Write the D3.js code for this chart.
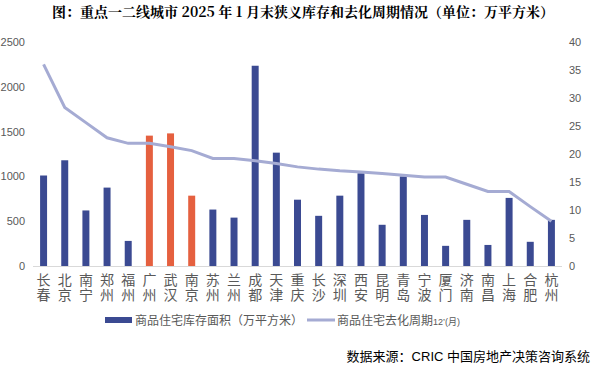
<!DOCTYPE html>
<html>
<head>
<meta charset="utf-8">
<script src="https://cdn.jsdelivr.net/npm/d3@7"></script>
<style>
  body { margin: 0; background: #fff; }
  svg { display: block; }
</style>
</head>
<body>
<div id="chart"></div>
<script>
const cities = ["长春", "北京", "南宁", "郑州", "福州", "广州", "武汉", "南京", "苏州", "兰州", "成都", "天津",
    "重庆", "长沙", "深圳", "西安", "昆明", "青岛", "宁波", "厦门", "济南", "南昌", "上海", "合肥", "杭州"];
const stock = [1010, 1180, 620, 875, 280, 1455, 1480, 785, 630, 540, 2235, 1265,
    740, 560, 785, 1035, 460, 1000, 570, 225, 515, 235, 760, 270, 515];
const cycle = [36, 28.3, 25.6, 22.9, 21.9, 21.9, 21.3, 20.6, 19.2, 19.2, 18.8, 18.3,
    17.7, 17.3, 17.0, 16.8, 16.5, 16.2, 15.9, 15.9, 14.6, 13.3, 13.3, 10.6, 8.0];
const highlighted = ["广州", "武汉", "南京"];
const leftTicks = [0, 500, 1000, 1500, 2000, 2500];
const rightTicks = [0, 5, 10, 15, 20, 25, 30, 35, 40];

const W = 606, H = 374;
const margin = { top: 42, right: 44, bottom: 108, left: 33 };

const svg = d3.select("#chart").append("svg")
    .attr("width", W).attr("height", H)
    .style("font-family", "'Liberation Sans', 'Noto Sans CJK SC', sans-serif");

// title
svg.append("text")
    .attr("x", W / 2).attr("y", 17)
    .attr("text-anchor", "middle")
    .attr("font-size", 14).attr("font-weight", "bold")
    .attr("fill", "#000")
    .style("font-family", "'Noto Serif CJK SC', 'Noto Sans CJK SC', serif")
    .text("图：重点一二线城市 2025 年 1 月末狭义库存和去化周期情况（单位：万平方米）");

/* scales */
let x = d3.scaleBand()
    .domain(cities)
    .range([margin.left, W - margin.right])
    .paddingInner(0.67).paddingOuter(0.335);

let yL = d3.scaleLinear().domain([0, 2500]).range([H - margin.bottom, margin.top]);
let yR = d3.scaleLinear().domain([0, 40]).range([H - margin.bottom, margin.top]);

/* left axis */
const gl = svg.append("g")
    .attr("transform", `translate(${margin.left - 8}, 0)`)
    .call(d3.axisLeft(yL).tickValues(leftTicks).tickFormat(d3.format("d")).tickSize(0).tickPadding(0));
gl.select(".domain").remove();
gl.selectAll("text").attr("font-size", 11).attr("fill", "#595959");

/* right axis */
const gr = svg.append("g")
    .attr("transform", `translate(${W - margin.right + 7}, 0)`)
    .call(d3.axisRight(yR).tickValues(rightTicks).tickSize(0).tickPadding(0));
gr.select(".domain").remove();
gr.selectAll("text").attr("font-size", 11).attr("fill", "#595959");

/* bars */
svg.selectAll("rect.bar")
    .data(stock)
    .enter().append("rect")
    .attr("class", "bar")
    .attr("x", (d, i) => x(cities[i]))
    .attr("y", d => yL(d))
    .attr("width", x.bandwidth())
    .attr("height", d => yL(0) - yL(d))
    .attr("fill", (d, i) => highlighted.includes(cities[i]) ? "#e5603f" : "#3b4a92");

/* x axis line */
svg.append("line")
    .attr("x1", margin.left).attr("x2", W - margin.right)
    .attr("y1", yL(0) + 0.5).attr("y2", yL(0) + 0.5)
    .attr("stroke", "#d9d9d9");

/* x labels - vertical two chars */
const xl = svg.selectAll("g.xlab")
    .data(cities)
    .enter().append("g")
    .attr("transform", d => `translate(${x(d) + x.bandwidth() / 2}, 0)`);
xl.append("text").attr("y", 285).text(d => d[0]);
xl.append("text").attr("y", 300).text(d => d[1]);
xl.selectAll("text")
    .attr("text-anchor", "middle")
    .attr("font-size", 14)
    .attr("fill", "#595959");

/* line */
const line = d3.line()
    .x((d, i) => x(cities[i]) + x.bandwidth() / 2)
    .y(d => yR(d));
svg.append("path")
    .datum(cycle)
    .attr("d", line)
    .attr("fill", "none")
    .attr("stroke", "#a5abd3")
    .attr("stroke-width", 3);

/* legend */
const lg = svg.append("g").attr("font-size", 12).attr("fill", "#595959");
lg.append("rect").attr("x", 105).attr("y", 317).attr("width", 27).attr("height", 6).attr("fill", "#3b4a92");
lg.append("text").attr("x", 135).attr("y", 325).text("商品住宅库存面积（万平方米）");
lg.append("line").attr("x1", 307).attr("x2", 335).attr("y1", 320).attr("y2", 320)
    .attr("stroke", "#a5abd3").attr("stroke-width", 3);
const t2 = lg.append("text").attr("x", 337).attr("y", 325);
t2.append("tspan").text("商品住宅去化周期");
t2.append("tspan").attr("font-size", 9).text("12’(月)");

/* source */
svg.append("text")
    .attr("x", 590).attr("y", 361)
    .attr("text-anchor", "end")
    .attr("font-size", 13)
    .attr("fill", "#000")
    .text("数据来源：CRIC 中国房地产决策咨询系统");
</script>
</body>
</html>
